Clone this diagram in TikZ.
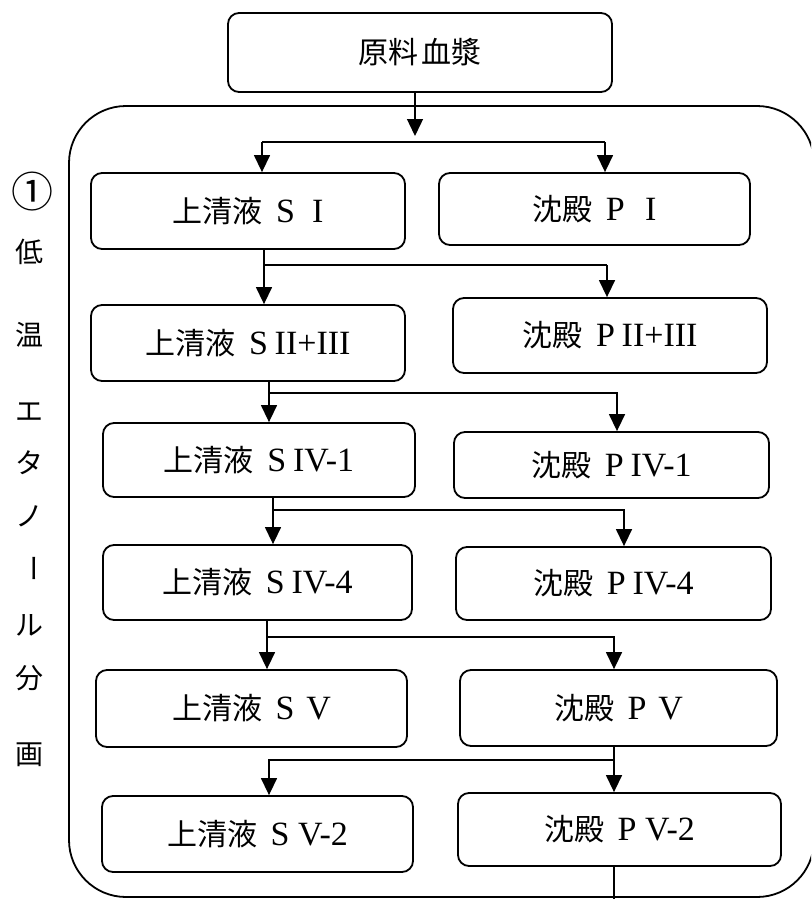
\documentclass[tikz,border=0pt]{standalone}
\usepackage{fontspec}
\setmainfont{Liberation Serif}
\newfontfamily\jp{Noto Sans CJK JP}
\usetikzlibrary{arrows.meta}
\newcommand\bxt[2]{{\jp #1}\hspace{0.45em}{\fontsize{34}{38}\selectfont #2}}
\tikzset{
  bx/.style={draw, line width=1.8pt, rounded corners=11pt, inner sep=0pt,
    font=\fontsize{30}{36}\selectfont},
  ln/.style={line width=1.4pt},
  tip/.style={line width=1.4pt, -{Triangle[width=16pt,length=17pt]}},
  side/.style={font=\jp\fontsize{28}{32}\selectfont, inner sep=0pt},
  frame/.style={line width=1.8pt, rounded corners=57pt}
}
\begin{document}
\begin{tikzpicture}[x=1pt,y=-1pt]
\useasboundingbox (0,0) rectangle (811,899);
\clip (0,0) rectangle (811,899);
\fill[white] (0,0) rectangle (811,899);
% container
\draw[frame] (69,106) rectangle (814,897);
% side label
\node[side, font=\jp\fontsize{42}{46}\selectfont] (n1) at (33,192) {①};
\node[side] (s1) at (30,252) {低};
\node[side] (s2) at (30,335) {温};
\node[side] (s3) at (30,412) {エ};
\node[side] (s4) at (30,463) {タ};
\node[side] (s5) at (30,516) {ノ};
\node[side, rotate=-90] (s6) at (30,568) {ー};
\node[side] (s7) at (30,625) {ル};
\node[side] (s8) at (30,678) {分};
\node[side] (s9) at (30,755) {画};
% boxes
\node[bx, minimum width=384pt, minimum height=79pt] (top) at (420,52.5) {{\jp 原料\hspace{0.1em}血漿}};
\node[bx, minimum width=314pt, minimum height=76pt] (SI) at (248,211) {\bxt{上清液}{S\hspace{0.5em}I}};
\node[bx, minimum width=311pt, minimum height=72pt] (PI) at (594.5,209) {\bxt{沈殿}{P\hspace{0.6em}I}};
\node[bx, minimum width=314pt, minimum height=76pt] (SII) at (248,343) {\bxt{上清液}{S\hspace{0.2em}II+III}};
\node[bx, minimum width=314pt, minimum height=75pt] (PII) at (610,335.5) {\bxt{沈殿}{P\hspace{0.2em}II+III}};
\node[bx, minimum width=312pt, minimum height=74pt] (SIV1) at (259,460) {\bxt{上清液}{S\hspace{0.2em}IV-1}};
\node[bx, minimum width=315pt, minimum height=66pt] (PIV1) at (611.5,465) {\bxt{沈殿}{P\hspace{0.2em}IV-1}};
\node[bx, minimum width=309pt, minimum height=75pt] (SIV4) at (257.5,582.5) {\bxt{上清液}{S\hspace{0.2em}IV-4}};
\node[bx, minimum width=315pt, minimum height=73pt] (PIV4) at (613.5,583.5) {\bxt{沈殿}{P\hspace{0.2em}IV-4}};
\node[bx, minimum width=311pt, minimum height=77pt] (SV) at (251.5,708.5) {\bxt{上清液}{S\hspace{0.35em}V}};
\node[bx, minimum width=317pt, minimum height=76pt] (PV) at (618.5,708) {\bxt{沈殿}{P\hspace{0.35em}V}};
\node[bx, minimum width=311pt, minimum height=76pt] (SV2) at (257.5,834) {\bxt{上清液}{S\hspace{0.25em}V-2}};
\node[bx, minimum width=323pt, minimum height=73pt] (PV2) at (619.5,829.5) {\bxt{沈殿}{P\hspace{0.25em}V-2}};
% branch coordinates
\coordinate (b0) at (415,136);
\coordinate (h0l) at (262,142); \coordinate (h0r) at (605,142);
\coordinate (h1l) at (264,265); \coordinate (h1r) at (607,265);
\coordinate (h2l) at (269,393); \coordinate (h2r) at (617,393);
\coordinate (h3l) at (273,510); \coordinate (h3r) at (624,510);
\coordinate (h4l) at (267,637); \coordinate (h4r) at (614,637);
\coordinate (h5l) at (269,760); \coordinate (h5r) at (614,760);
\coordinate (endb) at (614,899);
% connectors
\draw[tip] (top.south -| b0) -- (b0);
\draw[ln] (h0l) -- (h0r);
\draw[tip] (h0l) -- (SI.north -| h0l);
\draw[tip] (h0r) -- (PI.north -| h0r);
\draw[ln] (SI.south -| h1l) -- (h1l) -- (h1r);
\draw[tip] (h1l) -- (SII.north -| h1l);
\draw[tip] (h1r) -- (PII.north -| h1r);
\draw[tip] (SII.south -| h2l) -- (SIV1.north -| h2l);
\draw[tip] (h2l) -- (h2r) -- (PIV1.north -| h2r);
\draw[tip] (SIV1.south -| h3l) -- (SIV4.north -| h3l);
\draw[tip] (h3l) -- (h3r) -- (PIV4.north -| h3r);
\draw[tip] (SIV4.south -| h4l) -- (SV.north -| h4l);
\draw[tip] (h4l) -- (h4r) -- (PV.north -| h4r);
\draw[tip] (PV.south -| h5r) -- (PV2.north -| h5r);
\draw[tip] (h5r) -- (h5l) -- (SV2.north -| h5l);
\draw[ln] (PV2.south -| endb) -- (endb);
\end{tikzpicture}
\end{document}
